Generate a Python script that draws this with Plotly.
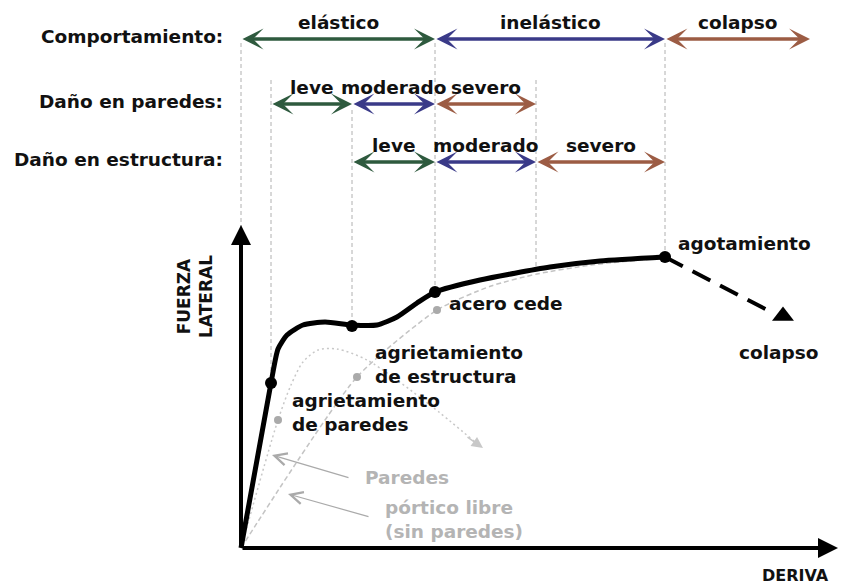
import plotly.graph_objects as go

# damage / behaviour levels along the drift axis
row_names = ["Comportamiento:", "Daño en paredes:", "Daño en estructura:"]
comport_limits = [0, 19.4, 42.4, 56.9]
comport_labels = ["elástico", "inelástico", "colapso"]
paredes_limits = [3.0, 11.1, 19.4, 29.5]
paredes_labels = ["leve", "moderado", "severo"]
estructura_limits = [11.1, 19.4, 29.5, 42.4]
estructura_labels = ["leve", "moderado", "severo"]

# dashed guide lines (drift, top, bottom)
guide_deriva = [0, 3.0, 11.1, 19.4, 29.5, 42.4]
guide_top = [50.5, 46.8, 43.8, 50.5, 46.8, 50.5]
guide_bottom = [32.0, 16.5, 22.2, 25.6, 28.0, 29.1]

# capacity curve with walls (thick black)
curva_deriva = [0, 3.0, 3.7, 4.6, 6.2, 8.4, 11.1, 13.6, 15.6, 17.6, 19.4, 23.9, 30.9, 35.9, 42.4]
curva_fuerza = [0, 16.5, 19.9, 21.3, 22.3, 22.6, 22.3, 22.3, 23.1, 24.5, 25.6, 26.8, 28.1, 28.7, 29.1]
colapso_deriva = [42.4, 53.4]
colapso_fuerza = [29.1, 23.4]
puntos_deriva = [3.0, 11.1, 19.4, 42.4]
puntos_fuerza = [16.5, 22.2, 25.6, 29.1]

# walls alone (gray dotted)
paredes_deriva = [0, 3.7, 5.0, 6.2, 7.7, 9.6, 12.6, 18.9, 23.4]
paredes_fuerza = [0, 12.8, 16.3, 18.6, 19.8, 19.9, 18.8, 14.3, 10.6]

# bare frame (gray dashed)
portico_deriva = [0, 11.6, 19.6, 25.0, 29.6, 35.0, 42.4]
portico_fuerza = [0, 17.1, 23.8, 26.2, 27.4, 28.3, 29.0]
gris_deriva = [3.7, 11.6, 19.6]
gris_fuerza = [12.8, 17.1, 23.8]

GREEN = "#2e5a3e"
BLUE = "#3a3a88"
BROWN = "#9c5c44"
level_colors = [GREEN, BLUE, BROWN]
GRAY = "#b4b4b4"
FONT = "DejaVu Sans"

fig = go.Figure()

gx, gy = [], []
for d, t, b in zip(guide_deriva, guide_top, guide_bottom):
    gx += [d, d, None]
    gy += [t, b, None]
fig.add_trace(go.Scatter(x=gx, y=gy, mode="lines",
                         line=dict(color="#b0b0b0", width=1, dash="4px,3px"),
                         hoverinfo="skip"))

fig.add_trace(go.Scatter(x=portico_deriva, y=portico_fuerza, mode="lines",
                         line=dict(color="#c4c4c4", width=1.5, dash="5px,3px", shape="spline", smoothing=0.6),
                         hoverinfo="skip"))
fig.add_trace(go.Scatter(x=paredes_deriva, y=paredes_fuerza, mode="lines",
                         line=dict(color="#c8c8c8", width=1.5, dash="2px,3px", shape="spline", smoothing=0.8),
                         hoverinfo="skip"))
fig.add_trace(go.Scatter(x=gris_deriva, y=gris_fuerza, mode="markers",
                         marker=dict(color="#aaaaaa", size=8), hoverinfo="skip"))

fig.add_trace(go.Scatter(x=curva_deriva, y=curva_fuerza, mode="lines",
                         line=dict(color="black", width=5, shape="spline", smoothing=0.6),
                         hoverinfo="skip"))
fig.add_trace(go.Scatter(x=colapso_deriva, y=colapso_fuerza, mode="lines",
                         line=dict(color="black", width=4, dash="20px,11px"),
                         hoverinfo="skip"))
fig.add_trace(go.Scatter(x=[colapso_deriva[-1] + 0.8], y=[colapso_fuerza[-1] - 0.2], mode="markers",
                         marker=dict(symbol="triangle-up", color="black", size=19),
                         hoverinfo="skip"))
fig.add_trace(go.Scatter(x=puntos_deriva, y=puntos_fuerza, mode="markers",
                         marker=dict(color="black", size=12), hoverinfo="skip"))

ann = []


def txt(x, y, text, size=18.5, color="#111111", xanchor="center", align="center", angle=0):
    ann.append(dict(x=x, y=y, xref="x", yref="y", text=text, showarrow=False,
                    xanchor=xanchor, yanchor="middle", align=align, textangle=angle,
                    font=dict(family=FONT, size=size, color=color, weight="bold")))


def arrow(x0, y0, x1, y1, color, width, head, size, both=False):
    a = dict(x=x1, y=y1, ax=x0, ay=y0, xref="x", yref="y", axref="x", ayref="y",
             text="", showarrow=True, arrowhead=head, arrowsize=size,
             arrowwidth=width, arrowcolor=color)
    if both:
        a.update(arrowside="end+start", startarrowhead=head, startarrowsize=size)
    ann.append(a)


row_y = [50.9, 44.4, 38.6]
rows = [(comport_limits, comport_labels), (paredes_limits, paredes_labels),
        (estructura_limits, estructura_labels)]
for name, (limits, labels), y in zip(row_names, rows, row_y):
    txt(-1.6, y + 0.3, name, size=18.5, xanchor="right")
    for i, lab in enumerate(labels):
        arrow(limits[i], y, limits[i + 1], y, level_colors[i], 3.5, 3, 1.0, both=True)
        txt((limits[i] + limits[i + 1]) / 2, y + 1.7, lab)

# axes
arrow(0, 0, 0, 32.3, "black", 4, 2, 1)
arrow(0, 0, 59.7, 0, "black", 4, 2, 1)
txt(-4.6, 25.1, "FUERZA<br>LATERAL", size=17, angle=-90)
txt(55.4, -2.7, "DERIVA", size=16)

# point labels
txt(43.5, 30.5, "agotamiento", xanchor="left")
txt(20.6, 24.5, "acero cede", xanchor="left")
txt(13.2, 18.35, "agrietamiento<br>de estructura", xanchor="left", align="left")
txt(4.9, 13.55, "agrietamiento<br>de paredes", xanchor="left", align="left")
txt(53.7, 19.6, "colapso")

# gray curve notes
arrow(paredes_deriva[-2] + 3.6, paredes_fuerza[-2] - 3.1, paredes_deriva[-1] + 0.8, paredes_fuerza[-1] - 0.6,
      "#c8c8c8", 1.5, 2, 1.5)
arrow(10.9, 7.0, 3.1, 9.3, "#aaaaaa", 1.2, 5, 2)
arrow(12.9, 3.1, 4.7, 5.4, "#aaaaaa", 1.2, 5, 2)
txt(12.2, 7.1, "Paredes", color=GRAY, xanchor="left")
txt(14.2, 2.9, "pórtico libre<br>(sin paredes)", color=GRAY, xanchor="left", align="left")

# page body has an 8px margin, so the figure is 842x578 and the ranges
# are shifted to keep 10 px per unit with the origin at (241, 548)
fig.update_layout(
    width=842,
    height=578,
    margin=dict(l=0, r=0, t=0, b=0),
    paper_bgcolor="white",
    plot_bgcolor="white",
    showlegend=False,
    annotations=ann,
)
fig.update_xaxes(range=[-23.3, 60.9], visible=False, fixedrange=True)
fig.update_yaxes(range=[-3.8, 54.0], visible=False, fixedrange=True)
fig.write_html("out.html")
